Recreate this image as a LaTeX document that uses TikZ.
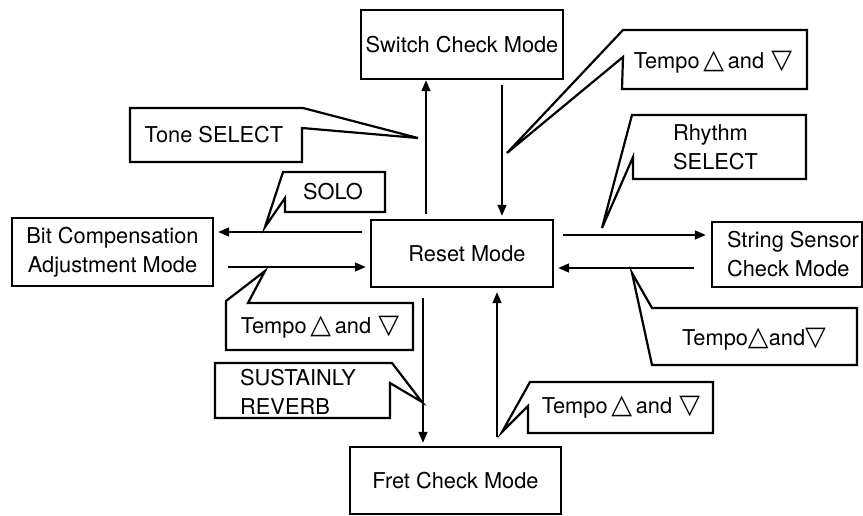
\documentclass[tikz,border=0pt]{standalone}
\usepackage{fontspec}
\setmainfont{TeX Gyre Heros}
\newfontfamily\symfont{DejaVu Sans}
\usetikzlibrary{arrows.meta}
\newcommand{\tup}{{\symfont\fontsize{27}{27}\selectfont △}}
\newcommand{\tdn}{{\symfont\fontsize{27}{27}\selectfont ▽}}
\begin{document}
\begin{tikzpicture}[x=1pt,y=-1pt,
  txt/.style={font=\fontsize{21.8}{29}\selectfont},
  box/.style={draw,line width=2.4pt,inner sep=0pt,align=center,txt},
  lbl/.style={inner sep=0pt,align=center,txt},
  callout/.style={draw,line width=2.2pt,line join=miter},
  arr/.style={line width=1.5pt,-{Triangle[length=11pt,width=9pt]}}]
\useasboundingbox (0,0) rectangle (863,516);

% mode boxes
\node[box,minimum width=202pt,minimum height=69pt] (switch) at (462,44.5) {Switch Check Mode};
\node[box,minimum width=182pt,minimum height=67pt] (reset) at (462,253.5) {\kern10pt Reset Mode};
\node[box,minimum width=201pt,minimum height=68pt] (bit) at (112.5,252) {Bit Compensation\\Adjustment Mode};
\node[box,minimum width=150pt,minimum height=65pt,align=left] (string) at (787,254.5) {\hspace*{12pt}String Sensor\\\hspace*{12pt}Check Mode};
\node[box,minimum width=211pt,minimum height=67pt] (fret) at (455.5,480.5) {Fret Check Mode};

% connectors
\draw[arr,shorten <=5pt] ([xshift=-36pt]reset.north) -- ([xshift=-36pt]reset.north |- switch.south);
\draw[arr,shorten <=5pt,shorten >=3pt] ([xshift=40pt]switch.south) -- ([xshift=40pt]switch.south |- reset.north);
\draw[arr,shorten <=8pt,shorten >=4pt] ([yshift=21.5pt]reset.west) -- ([yshift=21.5pt]reset.west -| bit.east);
\draw[arr,shorten <=14pt,shorten >=4pt] ([yshift=-13.5pt]reset.west -| bit.east) -- ([yshift=-13.5pt]reset.west);
\draw[arr,shorten <=9pt,shorten >=5pt] ([yshift=18.5pt]reset.east) -- ([yshift=18.5pt]reset.east -| string.west);
\draw[arr,shorten <=17pt,shorten >=4pt] ([yshift=-14.5pt]reset.east -| string.west) -- ([yshift=-14.5pt]reset.east);
\draw[arr,shorten <=10pt,shorten >=3pt] ([xshift=-39pt]reset.south) -- ([xshift=-39pt]reset.south |- fret.north);
\draw[arr,shorten <=9pt,shorten >=4pt] ([xshift=35pt]reset.south |- fret.north) -- ([xshift=35pt]reset.south);

% callouts
\draw[callout] (623,30) -- (807,30) -- (807,89) -- (622,89) -- (623,57) -- (507,153) -- cycle;
\node[lbl] (tempoA) at (713,62) {Tempo\,\tup\,and\,\,\tdn};

\draw[callout] (130,108) -- (303,108) -- (418,138) -- (302,128) -- (302,162) -- (130,162) -- cycle;
\node[lbl] (tone) at (214,135) {Tone SELECT};

\draw[callout] (283,172) -- (385,172) -- (385,212) -- (285,212) -- (285,198) -- (265,227) -- cycle;
\node[lbl] (solo) at (333,192) {SOLO};

\draw[callout] (226,301) -- (265,271) -- (248,303) -- (413,303) -- (413,350) -- (226,350) -- cycle;
\node[lbl] (tempoB) at (320,327) {Tempo\,\tup\,and\,\,\tdn};

\draw[callout] (632,115) -- (806,115) -- (806,179) -- (633,179) -- (633,157) -- (602,228) -- cycle;
\node[lbl,align=left,anchor=west] (rhythm) at (673,147) {Rhythm\\SELECT};

\draw[callout] (632,273) -- (652,308) -- (857,308) -- (857,365) -- (652,365) -- cycle;
\node[lbl] (tempoC) at (754,339) {Tempo\tup and\tdn};

\draw[callout] (215,363) -- (392,363) -- (422,402) -- (390,383) -- (390,418) -- (215,418) -- cycle;
\node[lbl,align=left,anchor=west] (sustain) at (240,392) {SUSTAINLY\\REVERB};

\draw[callout] (530,382) -- (713,382) -- (713,433) -- (528,433) -- (528,406) -- (502,432) -- cycle;
\node[lbl] (tempoD) at (621,407) {Tempo\,\tup\,and\,\,\tdn};
\end{tikzpicture}
\end{document}
